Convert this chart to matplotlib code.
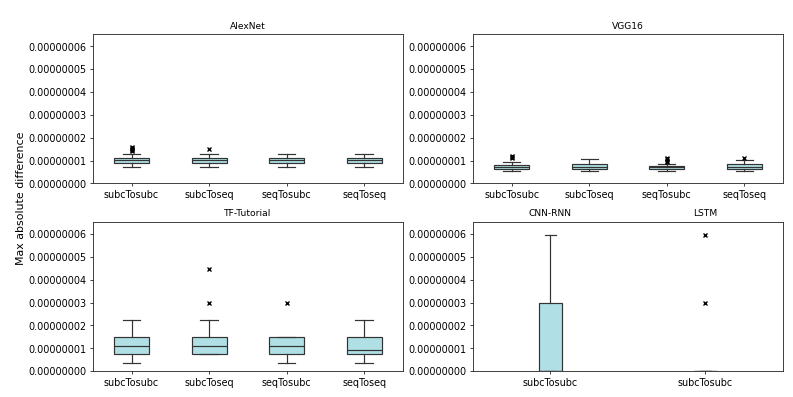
import matplotlib
matplotlib.use("Agg")
import matplotlib.pyplot as plt
from matplotlib.ticker import FormatStrFormatter

## values, in units of 1e-8
UNIT = 1e-8

conv_labels = ["subcTosubc", "subcToseq", "seqTosubc", "seqToseq"]

# AlexNet
alex_whislo = [0.74, 0.74, 0.74, 0.74]
alex_q1 = [0.90, 0.90, 0.90, 0.90]
alex_med = [1.02, 1.02, 1.02, 1.02]
alex_q3 = [1.13, 1.13, 1.13, 1.13]
alex_whishi = [1.30, 1.30, 1.30, 1.30]
alex_fliers = [[1.40, 1.45, 1.50, 1.55, 1.60], [1.49], [], []]

# VGG16
vgg_whislo = [0.55, 0.55, 0.55, 0.55]
vgg_q1 = [0.64, 0.65, 0.64, 0.64]
vgg_med = [0.72, 0.74, 0.71, 0.74]
vgg_q3 = [0.81, 0.84, 0.77, 0.84]
vgg_whishi = [0.93, 1.07, 0.84, 1.01]
vgg_fliers = [[1.12, 1.17, 1.22], [], [0.95, 1.0, 1.05, 1.1], [1.1]]

# TF-Tutorial
tf_whislo = [0.37, 0.75, 0.37, 0.37]
tf_q1 = [0.75, 0.75, 0.75, 0.75]
tf_med = [1.12, 1.12, 1.12, 0.93]
tf_q3 = [1.49, 1.49, 1.49, 1.49]
tf_whishi = [2.24, 2.24, 1.49, 2.24]
tf_fliers = [[], [2.98, 4.47], [2.98], []]

# CNN-RNN and LSTM (one subcTosubc box each)
rnn_names = ["CNN-RNN", "LSTM"]
rnn_labels = ["subcTosubc", "subcTosubc"]
rnn_whislo = [0.0, 0.0]
rnn_q1 = [0.0, 0.0]
rnn_med = [0.0, 0.0]
rnn_q3 = [2.98, 0.0]
rnn_whishi = [5.96, 0.0]
rnn_fliers = [[], [2.98, 5.96]]


def make_stats(labels, whislo, q1, med, q3, whishi, fliers):
    stats = []
    for i in range(len(labels)):
        stats.append({
            "label": labels[i],
            "whislo": whislo[i] * UNIT,
            "q1": q1[i] * UNIT,
            "med": med[i] * UNIT,
            "q3": q3[i] * UNIT,
            "whishi": whishi[i] * UNIT,
            "fliers": [f * UNIT for f in fliers[i]],
        })
    return stats


edge = "#333333"
box_style = dict(
    patch_artist=True,
    boxprops=dict(facecolor="powderblue", edgecolor=edge, linewidth=1.3),
    medianprops=dict(color=edge, linewidth=1.3),
    whiskerprops=dict(color=edge, linewidth=1.3),
    capprops=dict(color=edge, linewidth=1.3),
    flierprops=dict(marker="x", markeredgecolor="black", markersize=4,
                    markeredgewidth=1.5),
)

plt.rcParams["axes.linewidth"] = 1.0
plt.rcParams["axes.edgecolor"] = "#333333"

fig, axes = plt.subplots(2, 2, figsize=(12.02, 6.02), dpi=66)
fig.subplots_adjust(left=0.117, right=0.987, top=0.914, bottom=0.065,
                    wspace=0.226, hspace=0.255)

panels = [
    ("AlexNet", make_stats(conv_labels, alex_whislo, alex_q1, alex_med,
                           alex_q3, alex_whishi, alex_fliers)),
    ("VGG16", make_stats(conv_labels, vgg_whislo, vgg_q1, vgg_med,
                         vgg_q3, vgg_whishi, vgg_fliers)),
    ("TF-Tutorial", make_stats(conv_labels, tf_whislo, tf_q1, tf_med,
                               tf_q3, tf_whishi, tf_fliers)),
]

for ax, (name, stats) in zip([axes[0, 0], axes[0, 1], axes[1, 0]], panels):
    ax.bxp(stats, **box_style)
    ax.set_title(name, fontsize=10)

## last panel holds two models in one axes
ax = axes[1, 1]
ax.bxp(make_stats(rnn_labels, rnn_whislo, rnn_q1, rnn_med, rnn_q3,
                  rnn_whishi, rnn_fliers), **box_style)
for i, name in enumerate(rnn_names):
    ax.annotate(name, xy=(i + 1, 1.0), xycoords=("data", "axes fraction"),
                xytext=(0, 6), textcoords="offset points",
                ha="center", va="baseline", fontsize=10)

for ax in axes.flat:
    ax.set_ylim(0, 6.54e-8)
    ax.set_yticks([i * UNIT for i in range(7)])
    ax.yaxis.set_major_formatter(FormatStrFormatter("%.8f"))
    ax.tick_params(labelsize=10.5)

fig.supylabel("Max absolute difference")

plt.savefig("out.png")
